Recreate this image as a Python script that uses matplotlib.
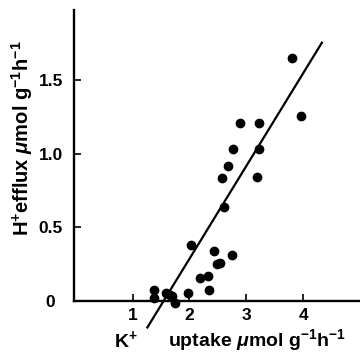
import matplotlib
matplotlib.use("Agg")
import matplotlib.pyplot as plt
import matplotlib.transforms as mtransforms
import numpy as np

# K+ uptake vs H+ efflux
k_uptake = [3.81, 3.97, 2.89, 3.22, 2.77, 3.23, 2.67, 2.57, 3.19, 2.61,
            2.02, 2.43, 2.75, 2.48, 2.53, 2.18, 2.33, 2.35, 1.98, 1.38,
            1.38, 1.58, 1.66, 1.69, 1.74]
h_efflux = [1.65, 1.26, 1.21, 1.21, 1.03, 1.03, 0.92, 0.835, 0.84, 0.64,
            0.376, 0.34, 0.31, 0.25, 0.256, 0.156, 0.165, 0.07, 0.052, 0.075,
            0.015, 0.052, 0.04, 0.03, -0.016]

# regression line
fit_slope = 0.632
fit_x0 = 1.55
fit_range = [1.26, 4.33]

x_ticks = [1, 2, 3, 4]
y_ticks = [0, 0.5, 1.0, 1.5]
y_ticklabels = ["0", "0.5", "1.0", "1.5"]

plt.rcParams["font.family"] = ["Liberation Sans", "DejaVu Sans"]
plt.rcParams["font.weight"] = "bold"
plt.rcParams["mathtext.fontset"] = "custom"
plt.rcParams["mathtext.rm"] = "Liberation Sans:bold"
plt.rcParams["mathtext.bf"] = "Liberation Sans:bold"
plt.rcParams["mathtext.it"] = "Liberation Sans:bold:italic"

fig = plt.figure(figsize=(3.6, 3.54), dpi=100)
ax = fig.add_axes([0.2056, 0.068, 0.7944, 0.904])

ax.scatter(k_uptake, h_efflux, s=36, color="black", zorder=3, clip_on=False)

lx = np.array(fit_range)
ax.plot(lx, fit_slope * (lx - fit_x0), color="black", lw=1.6, clip_on=False)

ax.set_xlim(-0.03, 5.0)
ax.set_ylim(-0.2, 1.98)

ax.spines["top"].set_visible(False)
ax.spines["right"].set_visible(False)
ax.spines["bottom"].set_position(("data", 0))
ax.spines["left"].set_bounds(0, 1.98)
for s in ("left", "bottom"):
    ax.spines[s].set_linewidth(1.7)

ax.set_xticks(x_ticks)
ax.set_xticklabels([str(t) for t in x_ticks])
ax.set_yticks(y_ticks)
ax.set_yticklabels(y_ticklabels)
ax.tick_params(axis="both", direction="in", length=5, width=1.2,
               labelsize=12.5)
ax.tick_params(axis="x", pad=5)
ax.tick_params(axis="y", pad=8)

# the "0" sits a little further left in the original
zero_lab = ax.get_yticklabels()[0]
zero_lab.set_transform(zero_lab.get_transform() +
                       mtransforms.ScaledTranslation(-0.08, 0, fig.dpi_scale_trans))

fig.text(0.35, 0.04, r"K$^{+}$", fontsize=14, fontweight="bold",
         ha="center", va="center")
fig.text(0.712, 0.04, r"uptake $\mu$mol g$^{-1}$h$^{-1}$", fontsize=14,
         fontweight="bold", ha="center", va="center")
fig.text(0.062, 0.61, r"H$^{+}$efflux $\mu$mol g$^{-1}$h$^{-1}$", fontsize=14.5,
         fontweight="bold", ha="center", va="center", rotation=90)

fig.savefig("out.png", dpi=100)
